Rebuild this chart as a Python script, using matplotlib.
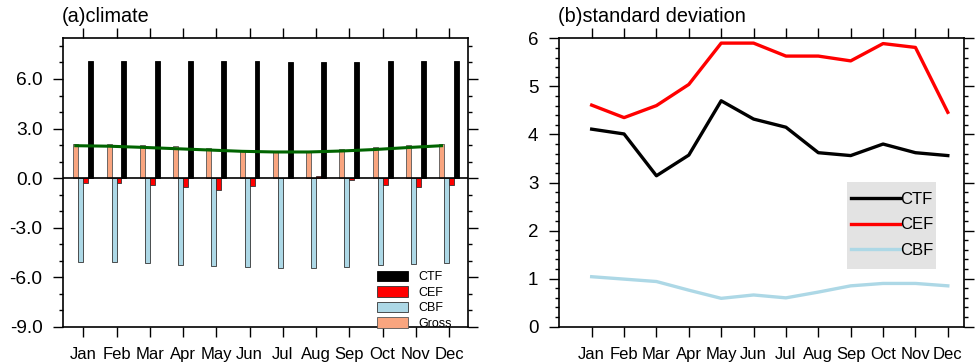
import matplotlib
matplotlib.use("Agg")
import matplotlib.pyplot as plt
import numpy as np
from matplotlib.ticker import MultipleLocator
from matplotlib.patches import Rectangle

plt.rcParams['font.family'] = ['Liberation Sans', 'DejaVu Sans']

months = ["Jan", "Feb", "Mar", "Apr", "May", "Jun", "Jul", "Aug", "Sep", "Oct", "Nov", "Dec"]

# (a) climate
ctf_clim = [7.07, 7.06, 7.07, 7.08, 7.09, 7.07, 7.03, 7.03, 7.04, 7.06, 7.08, 7.09]
cef_clim = [-0.30, -0.30, -0.42, -0.56, -0.72, -0.46, 0.02, 0.12, -0.12, -0.42, -0.52, -0.44]
cbf_clim = [-5.09, -5.10, -5.14, -5.24, -5.30, -5.38, -5.44, -5.42, -5.38, -5.26, -5.20, -5.12]
gross_clim = [2.06, 2.06, 2.02, 1.94, 1.82, 1.70, 1.62, 1.62, 1.74, 1.90, 2.00, 2.04]
gross_fit = [1.96, 1.93, 1.86, 1.78, 1.70, 1.62, 1.58, 1.58, 1.64, 1.73, 1.85, 1.96]

# (b) standard deviation
ctf_std = [4.11, 4.01, 3.14, 3.57, 4.70, 4.32, 4.15, 3.62, 3.56, 3.80, 3.62, 3.56]
cef_std = [4.61, 4.35, 4.60, 5.04, 5.90, 5.90, 5.63, 5.63, 5.53, 5.89, 5.81, 4.46]
cbf_std = [1.04, 0.99, 0.94, 0.76, 0.59, 0.66, 0.60, 0.72, 0.85, 0.90, 0.90, 0.85]

W, H = 976, 362
fig = plt.figure(figsize=(W / 100, H / 100), dpi=100)

def frac(x0, y0, x1, y1):
    return [x0 / W, 1 - y1 / H, (x1 - x0) / W, (y1 - y0) / H]

x = np.arange(1, 13)

def style_axes(ax, ylbl):
    ax.tick_params(axis='both', which='both', direction='out', top=True, right=True, width=1.0)
    ax.tick_params(axis='y', which='major', length=7, pad=8, labelsize=ylbl)
    ax.tick_params(axis='y', which='minor', length=3)
    ax.tick_params(axis='x', which='major', length=7, pad=7.8, labelsize=12)
    ax.tick_params(axis='x', which='minor', length=0)
    for s in ax.spines.values():
        s.set_linewidth(1.2)

# ---- Panel (a)
ax1 = fig.add_axes(frac(63.3, 37.7, 468, 326.7))
bw = 0.15
ax1.bar(x - 0.225, gross_clim, bw, color='#F9A57F', edgecolor='#555555', linewidth=0.6, label='Gross', zorder=2)
ax1.bar(x - 0.075, cbf_clim, bw, color='#ADD8E6', edgecolor='#333333', linewidth=0.6, label='CBF', zorder=2)
ax1.bar(x + 0.075, cef_clim, bw, color='#FF0000', edgecolor='#333333', linewidth=0.6, label='CEF', zorder=2)
ax1.bar(x + 0.225, ctf_clim, bw, color='#000000', edgecolor='#000000', linewidth=0.6, label='CTF', zorder=2)
ax1.axhline(0, color='black', linewidth=1.2, zorder=3)
ax1.plot(x - 0.225, gross_fit, color='#006400', linewidth=2.2, zorder=4)
ax1.set_xlim(0.4, 12.57)
ax1.set_ylim(-9, 8.5)
ax1.set_xticks(x)
ax1.set_xticklabels(months)
ax1.set_yticks([-9, -6, -3, 0, 3, 6])
ax1.set_yticklabels(["-9.0", "-6.0", "-3.0", "0.0", "3.0", "6.0"])
ax1.yaxis.set_minor_locator(MultipleLocator(1.0))
style_axes(ax1, 13.8)
h, l = ax1.get_legend_handles_labels()
order = [3, 2, 1, 0]
ax1.legend([h[i] for i in order], [l[i] for i in order], loc='upper left',
           bbox_to_anchor=((376.5 - 63.3) / (468 - 63.3), 1 - (270.5 - 37.7) / (326.7 - 37.7)),
           frameon=False, fontsize=9,
           handlelength=2.52, handleheight=0.9, labelspacing=0.25, handletextpad=0.8,
           borderpad=0.0, borderaxespad=0.0)
fig.text(62 / W, 1 - 17 / H, "(a)climate", fontsize=14.3, va='center', ha='left')

# ---- Panel (b)
ax2 = fig.add_axes(frac(559.3, 38.3, 964, 326.7))
ax2.plot(x, ctf_std, color='black', linewidth=2.4, label='CTF')
ax2.plot(x, cef_std, color='#FF0000', linewidth=2.4, label='CEF')
ax2.plot(x, cbf_std, color='#ADD8E6', linewidth=2.4, label='CBF')
ax2.set_xlim(0.0, 12.5)
ax2.set_ylim(0, 6)
ax2.set_xticks(x)
ax2.set_xticklabels(months)
ax2.set_yticks(range(0, 7))
ax2.yaxis.set_minor_locator(MultipleLocator(0.2))
style_axes(ax2, 13.5)
# grey legend background box
bx0, by0, bx1, by1 = 846.7, 181.7, 935.7, 269.3
ax2.add_patch(Rectangle((bx0 / W, 1 - by1 / H), (bx1 - bx0) / W, (by1 - by0) / H,
                        transform=fig.transFigure, facecolor='#E3E3E3', edgecolor='none',
                        zorder=4, clip_on=False))
leg = ax2.legend(loc='upper left',
                 bbox_to_anchor=((851 - 559.3) / (964 - 559.3), 1 - (191.5 - 38.3) / (326.7 - 38.3)),
                 fontsize=12, frameon=False, handlelength=2.94,
                 handletextpad=0.0, labelspacing=0.65, borderpad=0.0, borderaxespad=0)
leg.set_zorder(6)
fig.text(558 / W, 1 - 17 / H, "(b)standard deviation", fontsize=14.3, va='center', ha='left')

fig.savefig("out.png", dpi=100)
